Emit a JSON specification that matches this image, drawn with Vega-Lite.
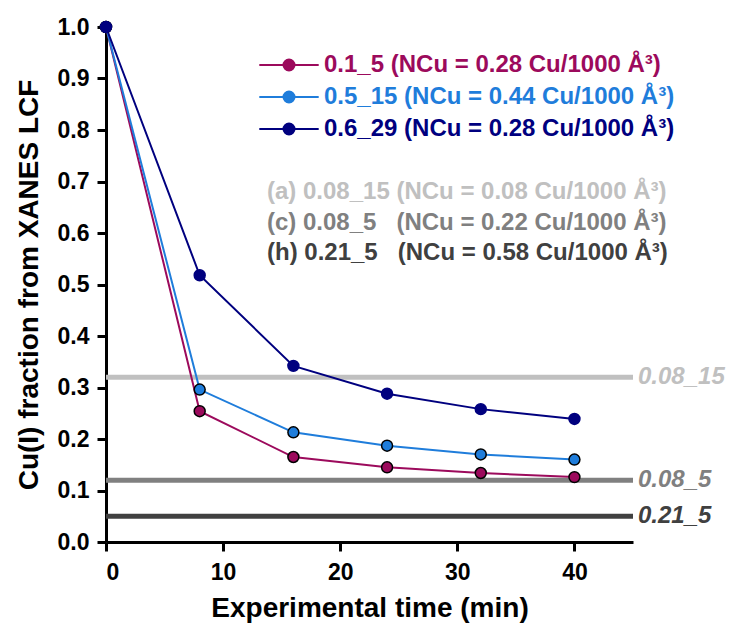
{
  "$schema": "https://vega.github.io/schema/vega-lite/v6.json",
  "width": 527,
  "height": 515,
  "autosize": "none",
  "padding": {"left": 106, "top": 27, "right": 101, "bottom": 81},
  "background": "white",
  "config": {
    "font": "Liberation Sans",
    "view": {"stroke": null},
    "axis": {
      "domainColor": "black",
      "domainWidth": 3,
      "tickColor": "black",
      "tickWidth": 3,
      "tickSize": 9,
      "labelColor": "black",
      "labelFont": "Liberation Sans",
      "labelFontSize": 23,
      "labelFontWeight": "bold",
      "titleFont": "Liberation Sans",
      "titleFontSize": 28,
      "titleFontWeight": "bold",
      "titleColor": "black",
      "grid": false
    }
  },
  "datasets": {
    "series": [
      {"series": "0.1_5", "time": 0, "frac": 1.0},
      {"series": "0.1_5", "time": 8, "frac": 0.254},
      {"series": "0.1_5", "time": 16, "frac": 0.165},
      {"series": "0.1_5", "time": 24, "frac": 0.145},
      {"series": "0.1_5", "time": 32, "frac": 0.134},
      {"series": "0.1_5", "time": 40, "frac": 0.126},
      {"series": "0.5_15", "time": 0, "frac": 1.0},
      {"series": "0.5_15", "time": 8, "frac": 0.296},
      {"series": "0.5_15", "time": 16, "frac": 0.213},
      {"series": "0.5_15", "time": 24, "frac": 0.187},
      {"series": "0.5_15", "time": 32, "frac": 0.170},
      {"series": "0.5_15", "time": 40, "frac": 0.160},
      {"series": "0.6_29", "time": 0, "frac": 1.0},
      {"series": "0.6_29", "time": 8, "frac": 0.518},
      {"series": "0.6_29", "time": 16, "frac": 0.342},
      {"series": "0.6_29", "time": 24, "frac": 0.288},
      {"series": "0.6_29", "time": 32, "frac": 0.258},
      {"series": "0.6_29", "time": 40, "frac": 0.239}
    ],
    "refs": [
      {"label": "0.08_15", "frac": 0.32},
      {"label": "0.08_5", "frac": 0.12},
      {"label": "0.21_5", "frac": 0.05}
    ]
  },
  "layer": [
    {
      "data": {"name": "refs"},
      "layer": [
        {
          "mark": {"type": "rule", "strokeWidth": 5},
          "encoding": {
            "y": {
              "field": "frac", "type": "quantitative",
              "scale": {"domain": [0, 1]},
              "axis": {"values": [0, 0.1, 0.2, 0.3, 0.4, 0.5, 0.6, 0.7, 0.8, 0.9, 1.0], "format": ".1f", "title": "Cu(I) fraction from XANES LCF", "labelPadding": 8, "titlePadding": 14}
            },
            "color": {
              "field": "label",
              "type": "nominal",
              "scale": {"domain": ["0.08_15", "0.08_5", "0.21_5"], "range": ["#c0c0c0", "#808080", "#404040"]},
              "legend": {
                "orient": "none",
                "legendX": 137,
                "legendY": 153,
                "title": null,
                "padding": 0,
                "symbolSize": 1,
                "symbolOpacity": 0,
                "symbolStrokeWidth": 0,
                "labelOffset": 0,
                "rowPadding": 6.5,
                "labelFont": "Liberation Sans",
                "labelFontSize": 24,
                "labelFontWeight": "bold",
                "labelLimit": 600,
                "labelExpr": "datum.value == '0.08_15' ? '(a) 0.08_15 (NCu = 0.08 Cu/1000 Å³)' : datum.value == '0.08_5' ? '(c) 0.08_5\u00a0\u00a0\u00a0(NCu = 0.22 Cu/1000 Å³)' : '(h) 0.21_5\u00a0\u00a0\u00a0(NCu = 0.58 Cu/1000 Å³)'",
                "encode": {
                  "labels": {"update": {"fill": {"signal": "datum.value == '0.08_15' ? '#c0c0c0' : datum.value == '0.08_5' ? '#808080' : '#404040'"}}}
                }
              }
            }
          }
        },
        {
          "mark": {"type": "text", "align": "left", "baseline": "middle", "dx": 5, "fontSize": 24, "fontStyle": "italic", "fontWeight": "bold", "font": "Liberation Sans"},
          "encoding": {
            "x": {"value": "width"},
            "y": {"field": "frac", "type": "quantitative"},
            "text": {"field": "label"},
            "color": {"field": "label", "type": "nominal", "legend": null}
          }
        }
      ]
    },
    {
      "data": {"name": "series"},
      "layer": [
        {
          "mark": {"type": "line", "strokeWidth": 2},
          "encoding": {
            "x": {
              "field": "time", "type": "quantitative",
              "scale": {"domain": [0, 45], "nice": false},
              "axis": {"values": [0, 10, 20, 30, 40], "title": "Experimental time (min)", "labelPadding": 10, "titlePadding": 10}
            },
            "y": {"field": "frac", "type": "quantitative"},
            "color": {
              "field": "series",
              "type": "nominal",
              "scale": {"domain": ["0.1_5", "0.5_15", "0.6_29"], "range": ["#9c0a5c", "#1f7ddb", "#00007f"]},
              "legend": {
                "orient": "none",
                "legendX": 171,
                "legendY": 26,
                "title": null,
                "padding": 0,
                "symbolType": "M-5.4,0H5.4M1,0A1,1,0,1,1,-1,0A1,1,0,1,1,1,0Z",
                "symbolSize": 121,
                "symbolStrokeWidth": 2,
                "labelOffset": 23,
                "rowPadding": 8,
                "labelFont": "Liberation Sans",
                "labelFontSize": 24,
                "labelFontWeight": "bold",
                "labelLimit": 600,
                "labelExpr": "datum.value == '0.1_5' ? '0.1_5 (NCu = 0.28 Cu/1000 Å³)' : datum.value == '0.5_15' ? '0.5_15 (NCu = 0.44 Cu/1000 Å³)' : '0.6_29 (NCu = 0.28 Cu/1000 Å³)'",
                "encode": {
                  "symbols": {"update": {
                    "fill": {"signal": "datum.value == '0.1_5' ? '#9c0a5c' : datum.value == '0.5_15' ? '#1f7ddb' : '#00007f'"},
                    "stroke": {"signal": "datum.value == '0.1_5' ? '#9c0a5c' : datum.value == '0.5_15' ? '#1f7ddb' : '#00007f'"},
                    "opacity": {"value": 1}
                  }},
                  "labels": {"update": {"fill": {"signal": "datum.value == '0.1_5' ? '#9c0a5c' : datum.value == '0.5_15' ? '#1f7ddb' : '#00007f'"}}}
                }
              }
            }
          }
        },
        {
          "mark": {"type": "point", "filled": true, "size": 120, "strokeWidth": 1.5, "opacity": 1},
          "encoding": {
            "x": {"field": "time", "type": "quantitative"},
            "y": {"field": "frac", "type": "quantitative"},
            "color": {"field": "series", "type": "nominal", "legend": null},
            "stroke": {
              "field": "series", "type": "nominal",
              "scale": {"domain": ["0.1_5", "0.5_15", "0.6_29"], "range": ["black", "black", "#00007f"]},
              "legend": null
            }
          }
        }
      ]
    }
  ],
  "resolve": {"scale": {"color": "independent"}}
}
